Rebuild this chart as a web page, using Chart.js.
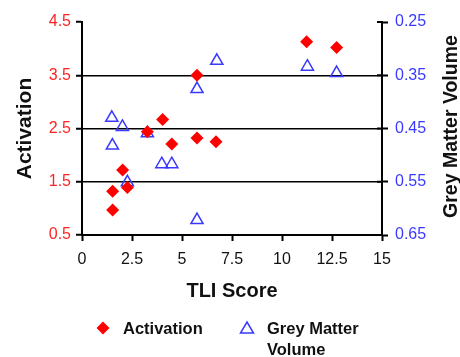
<!DOCTYPE html>
<html>
<head>
<meta charset="utf-8">
<script src="https://cdn.jsdelivr.net/npm/chart.js@4.4.1/dist/chart.umd.min.js"></script>
<style>
  html, body { margin: 0; padding: 0; background: #fff; }
  #wrap { position: relative; width: 460px; height: 357px; }
  .leg { position: absolute; font: bold 16.5px "Liberation Sans", Arial, sans-serif; color: #111; line-height: 21px; }
  .leg svg { position: absolute; }
</style>
</head>
<body>
<div id="wrap">
  <canvas id="chart" width="460" height="357"></canvas>
  <div class="leg" style="left:95px; top:318px;">
    <svg width="16" height="16" style="left:0; top:2px;"><polygon points="8,1.5 14.5,8 8,14.5 1.5,8" fill="#ff0000"/></svg>
    <span style="position:absolute; left:28px; top:0; white-space:nowrap;">Activation</span>
  </div>
  <div class="leg" style="left:239px; top:318px;">
    <svg width="16" height="16" style="left:0; top:1px;"><polygon points="8,3 14.5,14 1.5,14" fill="none" stroke="#3a3aff" stroke-width="1.5"/></svg>
    <span style="position:absolute; left:28px; top:0; white-space:nowrap;">Grey Matter<br>Volume</span>
  </div>
</div>
<script>
// Chart data
const xTitle = 'TLI Score'
const leftTitle = 'Activation'
const rightTitle = 'Grey Matter Volume'

const activationX = [1.53, 1.53, 2.03, 2.27, 3.27, 4.03, 4.49, 5.75, 5.75, 6.7, 11.23, 12.73]
const activationY = [0.97, 1.32, 1.72, 1.39, 2.44, 2.67, 2.21, 3.5, 2.32, 2.25, 4.13, 4.02]

const greyX = [1.49, 2.02, 1.52, 3.27, 3.99, 4.49, 2.27, 5.75, 5.75, 6.74, 11.27, 12.73]
const greyY = [0.430, 0.447, 0.482, 0.459, 0.517, 0.517, 0.551, 0.622, 0.376, 0.323, 0.334, 0.346]

const toPoints = (xs, ys) => xs.map((x, i) => ({ x: x, y: ys[i] }))

const font = 'Liberation Sans, Arial, sans-serif'

// right axis title reads bottom-to-top, and its ticks cross the axis line
const rightAxisPlugin = {
    id: 'rightAxis',
    afterDraw(chart) {
        const ctx = chart.ctx
        const area = chart.chartArea
        const y2 = chart.scales.y2
        ctx.save()
        ctx.strokeStyle = '#000'
        ctx.lineWidth = 2
        y2.ticks.forEach(t => {
            const py = y2.getPixelForValue(t.value)
            ctx.beginPath()
            ctx.moveTo(area.right - 5, py)
            ctx.lineTo(area.right, py)
            ctx.stroke()
        })
        ctx.translate(457, (area.top + area.bottom) / 2 - 2)
        ctx.rotate(-Math.PI / 2)
        ctx.font = 'bold 19.5px ' + font
        ctx.fillStyle = '#111'
        ctx.textAlign = 'center'
        ctx.textBaseline = 'alphabetic'
        ctx.fillText(rightTitle, 0, 0)
        ctx.restore()
    }
}

const chartConfig = {
    type: 'scatter',
    data: {
        datasets: [
            {
                label: 'Activation',
                data: toPoints(activationX, activationY),
                yAxisID: 'y',
                pointStyle: 'rectRot',
                pointRadius: 6.5,
                backgroundColor: '#ff0000',
                borderColor: '#ff0000',
                borderWidth: 0
            },
            {
                label: 'Grey Matter Volume',
                data: toPoints(greyX, greyY),
                yAxisID: 'y2',
                pointStyle: 'triangle',
                pointRadius: 7,
                backgroundColor: 'rgba(0,0,0,0)',
                borderColor: '#3a3aff',
                borderWidth: 1.5
            }
        ]
    },
    options: {
        responsive: false,
        animation: false,
        layout: { padding: { top: 22, bottom: 54, left: 0, right: 0 } },
        plugins: {
            legend: { display: false },
            tooltip: { enabled: false }
        },
        scales: {
            x: {
                type: 'linear',
                min: 0, max: 15,
                ticks: { stepSize: 2.5, color: '#111', font: { family: font, size: 16 }, padding: 9 },
                grid: { drawOnChartArea: false, drawTicks: true, tickLength: 6, tickColor: '#000', tickWidth: 2 },
                border: { color: '#000', width: 2 },
                title: { display: true, text: xTitle, color: '#111', font: { family: font, size: 20, weight: 'bold' }, padding: { top: 12, bottom: 0 } },
                afterFit: scale => { scale.height = 68 }
            },
            y: {
                position: 'left',
                min: 0.5, max: 4.5,
                ticks: { stepSize: 1, color: '#ff2424', font: { family: font, size: 16 }, padding: 5 },
                grid: {
                    color: c => (c.tick && c.tick.value === 4.5) ? 'rgba(0,0,0,0)' : '#000',
                    lineWidth: 1.5,
                    tickColor: '#000', tickWidth: 2, tickLength: 6
                },
                border: { color: '#000', width: 2 },
                title: { display: true, text: leftTitle, color: '#111', font: { family: font, size: 21, weight: 'bold' }, padding: { top: 13, bottom: 0 } },
                afterFit: scale => { scale.width = 82 }
            },
            y2: {
                position: 'right',
                reverse: true,
                min: 0.25, max: 0.65,
                ticks: { stepSize: 0.1, color: '#3a3aff', font: { family: font, size: 16 }, padding: 7,
                    callback: v => v.toFixed(2) },
                grid: { drawOnChartArea: false, tickColor: '#000', tickWidth: 2, tickLength: 6 },
                border: { color: '#000', width: 2 },
                afterFit: scale => { scale.width = 78 }
            }
        }
    },
    plugins: [rightAxisPlugin]
}

var ctx = document.getElementById('chart').getContext('2d')
var chart = new Chart(ctx, chartConfig)
</script>
</body>
</html>
